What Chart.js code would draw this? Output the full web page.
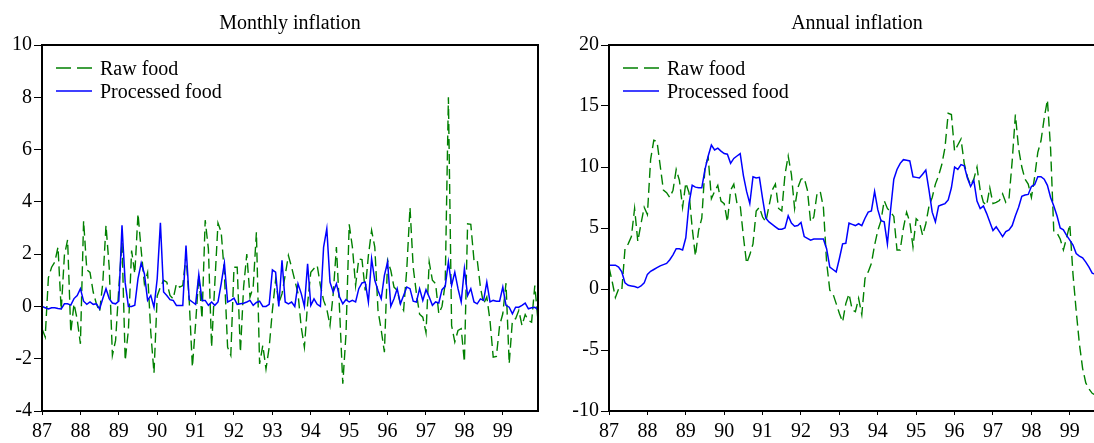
<!DOCTYPE html>
<html>
<head>
<meta charset="utf-8">
<script src="https://cdn.jsdelivr.net/npm/chart.js@4.4.0/dist/chart.umd.min.js"></script>
<style>
  html, body { margin: 0; padding: 0; background: #fff; overflow: hidden; width: 1094px; height: 443px; }
  canvas { position: absolute; top: 0; }
  #monthly { left: 0; }
  #annual { left: 567px; }
</style>
</head>
<body>
<canvas id="monthly" width="545" height="443"></canvas>
<canvas id="annual" width="545" height="443"></canvas>
<script>
// monthly observations, Jan 1987 .. Dec 1999 (one row per year)
const startYear = 87;
const yearTicks = [87, 88, 89, 90, 91, 92, 93, 94, 95, 96, 97, 98, 99];
const yearLabels = ["87", "88", "89", "90", "91", "92", "93", "94", "95", "96", "97", "98", "99"];
const seriesNames = ["Raw food", "Processed food"];

const monthlyRaw = [
  -0.85, -1.17, 1.1, 1.5, 1.7, 2.27, -0.15, 1.95, 2.55, -1.0, 0.1, -0.5,
  -1.43, 3.27, 1.4, 1.3, 0.55, 0.1, -0.2, 0.9, 3.1, 1.5, -1.87, -1.3,
  0.7, 2.46, -2.07, -0.9, 2.14, 1.25, 3.55, 2.14, 0.87, 1.3, -1.0, -2.55,
  0.4, 0.74, 1.0, 0.93, 0.42, 0.29, 0.87, 0.74, 0.8, 1.95, 0.23, -2.32,
  -0.66, 1.2, -0.47, 3.3, 2.2, -1.56, 0.87, 3.19, 2.84, 1.25, -1.56, -1.87,
  1.5, 1.5, -1.75, 0.74, 2.0, 0.36, 0.74, 2.84, -2.2, -1.49, -2.39, -1.56,
  -0.15, 1.02, 0.13, 0.48, 1.2, 1.95, 1.5, 1.0, 0.5, -0.79, -1.56, 0.1,
  1.31, 1.45, 1.57, 0.8, 0.23, -0.1, -0.73, 0.48, 2.27, -0.15, -2.96, -1.05,
  3.14, 2.27, 0.8, 1.82, 1.79, 0.61, 1.95, 2.91, 2.27, -0.15, -0.9, -1.75,
  1.76, 1.38, 0.74, 0.61, 0.1, -0.15, 1.44, 3.78, 1.5, 0.5, -0.3, -0.41,
  -1.0, 1.7, 1.0, 0.87, -0.28, 0.0, 0.87, 8.0, -0.73, -1.36, -0.92, -0.85,
  -2.13, 3.16, 3.14, 1.76, 1.79, 0.74, 0.1, 0.36, -0.54, -1.94, -1.91, -0.73,
  -0.28, 0.89, -2.19, -0.54, -0.47, -0.15, -0.73, -0.31, -0.54, -0.6, 0.8, -0.54
];
const monthlyProcessed = [
  0.0, -0.05, -0.1, -0.05, -0.05, -0.08, -0.1, 0.1, 0.1, 0.05, 0.3, 0.42,
  0.68, 0.2, 0.08, 0.17, 0.08, 0.1, -0.1, 0.3, 0.68, 0.3, 0.13, 0.1,
  0.2, 3.1, 0.9, 0.0, 0.0, 0.05, 1.06, 1.66, 1.25, 0.23, 0.42, -0.03,
  1.06, 3.2, 0.55, 0.42, 0.26, 0.23, 0.04, 0.04, 0.04, 2.33, 0.26, 0.17,
  0.08, 1.22, 0.23, 0.23, 0.04, 0.17, 0.04, 0.17, 0.87, 1.66, 0.17, 0.23,
  0.32, 0.08, 0.1, 0.12, 0.17, 0.23, 0.04, 0.15, 0.2, 0.0, 0.0, 0.08,
  1.4, 1.31, 0.0, 1.76, 0.17, 0.1, 0.17, 0.0, 0.87, 0.5, 0.0, 1.63,
  0.04, 0.29, 0.08, 0.0, 2.27, 2.97, 0.93, 0.55, 0.87, 0.36, 0.1, 0.26,
  0.17, 0.23, 0.17, 0.68, 0.9, 0.93, 0.17, 1.82, 1.0, 0.61, 0.29, 1.19,
  1.7, 0.0, 0.29, 0.68, 0.1, 0.42, 0.74, 0.68, 0.2, 0.17, 0.68, 0.23,
  0.64, 0.36, 0.04, 0.17, 0.13, 0.64, 0.77, 1.7, 0.8, 1.31, 0.68, 0.17,
  1.44, 0.42, 0.68, 0.17, 0.1, 0.29, 0.23, 0.93, 0.17, 0.23, 0.2, 0.2,
  0.74, 0.04, -0.03, -0.28, -0.03, -0.03, 0.04, 0.13, -0.09, -0.05, -0.03, -0.13
];
const annualRaw = [
  1.8, 0.6, -0.7, 0.0, -0.1, 3.3, 3.7, 4.3, 6.6, 3.9, 5.35, 6.7,
  6.1, 10.6, 12.2, 12.1, 10.1, 8.1, 7.9, 7.5, 8.1, 9.8, 8.9, 6.7,
  8.7, 7.9, 5.0, 2.7, 4.8, 5.8, 10.0, 10.8, 7.4, 8.0, 8.5, 7.2,
  7.0, 5.5, 8.1, 8.6, 7.0, 6.85, 4.3, 2.1, 2.8, 3.7, 6.4, 6.7,
  5.9, 5.5, 6.8, 8.1, 8.6, 6.6, 6.4, 9.4, 10.9, 9.4, 6.6, 8.3,
  9.0, 9.1, 8.1, 5.5, 5.9, 7.8, 8.0, 6.7, 2.2, -0.1, -0.4, -1.2,
  -2.0, -2.7, -1.2, -0.4, -1.7, -1.85, -0.76, -2.1, 0.87, 1.4, 2.1, 3.6,
  4.8, 5.6, 7.25, 6.6, 6.3, 5.95, 3.2, 3.2, 5.0, 6.3, 5.5, 3.45,
  5.76, 5.5, 4.4, 5.35, 6.8, 7.5, 8.6, 9.3, 10.2, 11.6, 14.4, 14.3,
  11.3, 11.8, 12.3, 10.3, 9.2, 8.5, 9.0, 10.0, 8.1, 7.1, 6.85, 8.3,
  7.0, 7.1, 7.25, 7.8, 7.1, 7.4, 10.5, 14.3, 11.5, 10.0, 9.0, 8.6,
  7.5, 9.15, 11.2, 12.15, 14.0, 15.5, 11.5, 4.7, 4.6, 4.1, 3.2, 4.2,
  5.3, 1.2, -1.8, -4.5, -6.5, -7.7, -8.2, -8.55, -8.7, -8.8, -8.85, -8.9
];
const annualProcessed = [
  1.95, 1.95, 1.95, 1.8, 1.4, 0.5, 0.3, 0.25, 0.2, 0.1, 0.25, 0.5,
  1.2, 1.45, 1.6, 1.75, 1.9, 2.0, 2.1, 2.4, 2.8, 3.3, 3.3, 3.2,
  4.2, 7.0, 8.5, 8.35, 8.3, 8.3, 9.8, 10.9, 11.8, 11.4, 11.55, 11.3,
  11.1, 11.05, 10.3, 10.7, 10.9, 11.1, 9.3, 8.0, 7.0, 9.2, 9.1, 9.15,
  7.4, 5.8, 5.5, 5.3, 5.1, 4.9, 4.9, 5.0, 6.0, 5.4, 5.15, 5.2,
  5.45, 4.3, 4.15, 4.0, 4.1, 4.1, 4.1, 4.1, 3.3, 1.8, 1.6, 1.4,
  2.5, 3.7, 3.75, 5.4, 5.3, 5.2, 5.35, 5.2, 5.8, 6.3, 6.4, 8.0,
  6.5, 5.6, 5.5, 3.7, 6.5, 9.0, 9.8, 10.3, 10.6, 10.55, 10.5, 9.2,
  9.15, 9.1, 9.4, 9.75, 8.1, 6.3, 5.5, 6.8, 6.9, 7.0, 7.3, 8.3,
  10.0, 9.8, 10.2, 10.1, 9.1, 8.4, 8.9, 7.2, 6.6, 6.8, 6.2, 5.5,
  4.8, 5.1, 4.7, 4.3, 4.7, 4.85, 5.2, 6.0, 6.7, 7.6, 7.7, 7.75,
  8.4, 8.55, 9.2, 9.2, 9.0, 8.5, 7.5, 6.8, 6.0, 5.0, 4.85, 4.4,
  4.0, 3.6, 2.9, 2.7, 2.55, 2.2, 1.8, 1.3, 1.2, 1.1, 1.0, 0.9
];

const serif = "'Liberation Serif', 'Times New Roman', serif";
Chart.defaults.font.family = serif;
Chart.defaults.font.size = 20;
Chart.defaults.color = "#000";

// box round the plot, title over it, legend inside the top-left corner
const framePlugin = {
  id: "frame",
  afterDatasetsDraw(chart, args, opts) {
    const ctx = chart.ctx;
    const a = chart.chartArea;
    ctx.save();
    ctx.strokeStyle = "#000";
    ctx.lineWidth = 2;
    ctx.strokeRect(a.left, a.top, a.right - a.left, a.bottom - a.top);

    ctx.fillStyle = "#000";
    ctx.font = "20px " + serif;
    ctx.textBaseline = "alphabetic";
    ctx.textAlign = "center";
    ctx.fillText(opts.title, (a.left + a.right) / 2, 29);

    ctx.textAlign = "left";
    chart.data.datasets.forEach((ds, i) => {
      const y = a.top + 23 + i * 23;
      ctx.strokeStyle = ds.borderColor;
      ctx.lineWidth = ds.borderWidth;
      ctx.setLineDash(ds.borderDash ? [15, 6] : []);
      ctx.beginPath();
      ctx.moveTo(a.left + 14, y);
      ctx.lineTo(a.left + 50, y);
      ctx.stroke();
      ctx.setLineDash([]);
      ctx.fillText(ds.label, a.left + 58, y + 6.5);
    });
    ctx.restore();
  }
};

function toPoints(values) {
  return values.map((v, i) => ({ x: startYear + i / 12, y: v }));
}

function makeChart(id, title, raw, processed, yMin, yMax, yStep) {
  return new Chart(document.getElementById(id), {
    type: "line",
    data: {
      datasets: [
        {
          label: seriesNames[0],
          data: toPoints(raw),
          borderColor: "#008000",
          borderWidth: 1.4,
          borderDash: [10, 5],
          pointRadius: 0,
          tension: 0,
          order: 1,
        },
        {
          label: seriesNames[1],
          data: toPoints(processed),
          borderColor: "#0000ff",
          borderWidth: 1.5,
          pointRadius: 0,
          tension: 0,
          order: 0,
        },
      ],
    },
    options: {
      responsive: false,
      animation: false,
      events: [],
      layout: { padding: { top: 45, right: 7, left: 0, bottom: 0 } },
      plugins: {
        legend: { display: false },
        tooltip: { enabled: false },
        frame: { title: title },
      },
      scales: {
        x: {
          type: "linear",
          min: startYear,
          max: startYear + (raw.length - 1) / 12,
          afterBuildTicks: (s) => { s.ticks = yearTicks.map((v) => ({ value: v })); },
          afterFit: (s) => { s.height = 32; },
          ticks: {
            autoSkip: false,
            maxRotation: 0,
            padding: 5,
            callback: (v) => yearLabels[yearTicks.indexOf(v)],
          },
          grid: { display: true, drawOnChartArea: false, drawTicks: true, tickLength: 4, tickColor: "#000", tickWidth: 1 },
          border: { display: false },
        },
        y: {
          min: yMin,
          max: yMax,
          afterFit: (s) => { s.width = 42; },
          ticks: { stepSize: yStep, padding: 2 },
          grid: { display: true, drawOnChartArea: false, drawTicks: true, tickLength: 8, tickColor: "#000", tickWidth: 1 },
          border: { display: false },
        },
      },
    },
    plugins: [framePlugin],
  });
}

makeChart("monthly", "Monthly inflation", monthlyRaw, monthlyProcessed, -4, 10, 2);
makeChart("annual", "Annual inflation", annualRaw, annualProcessed, -10, 20, 5);
</script>
</body>
</html>
